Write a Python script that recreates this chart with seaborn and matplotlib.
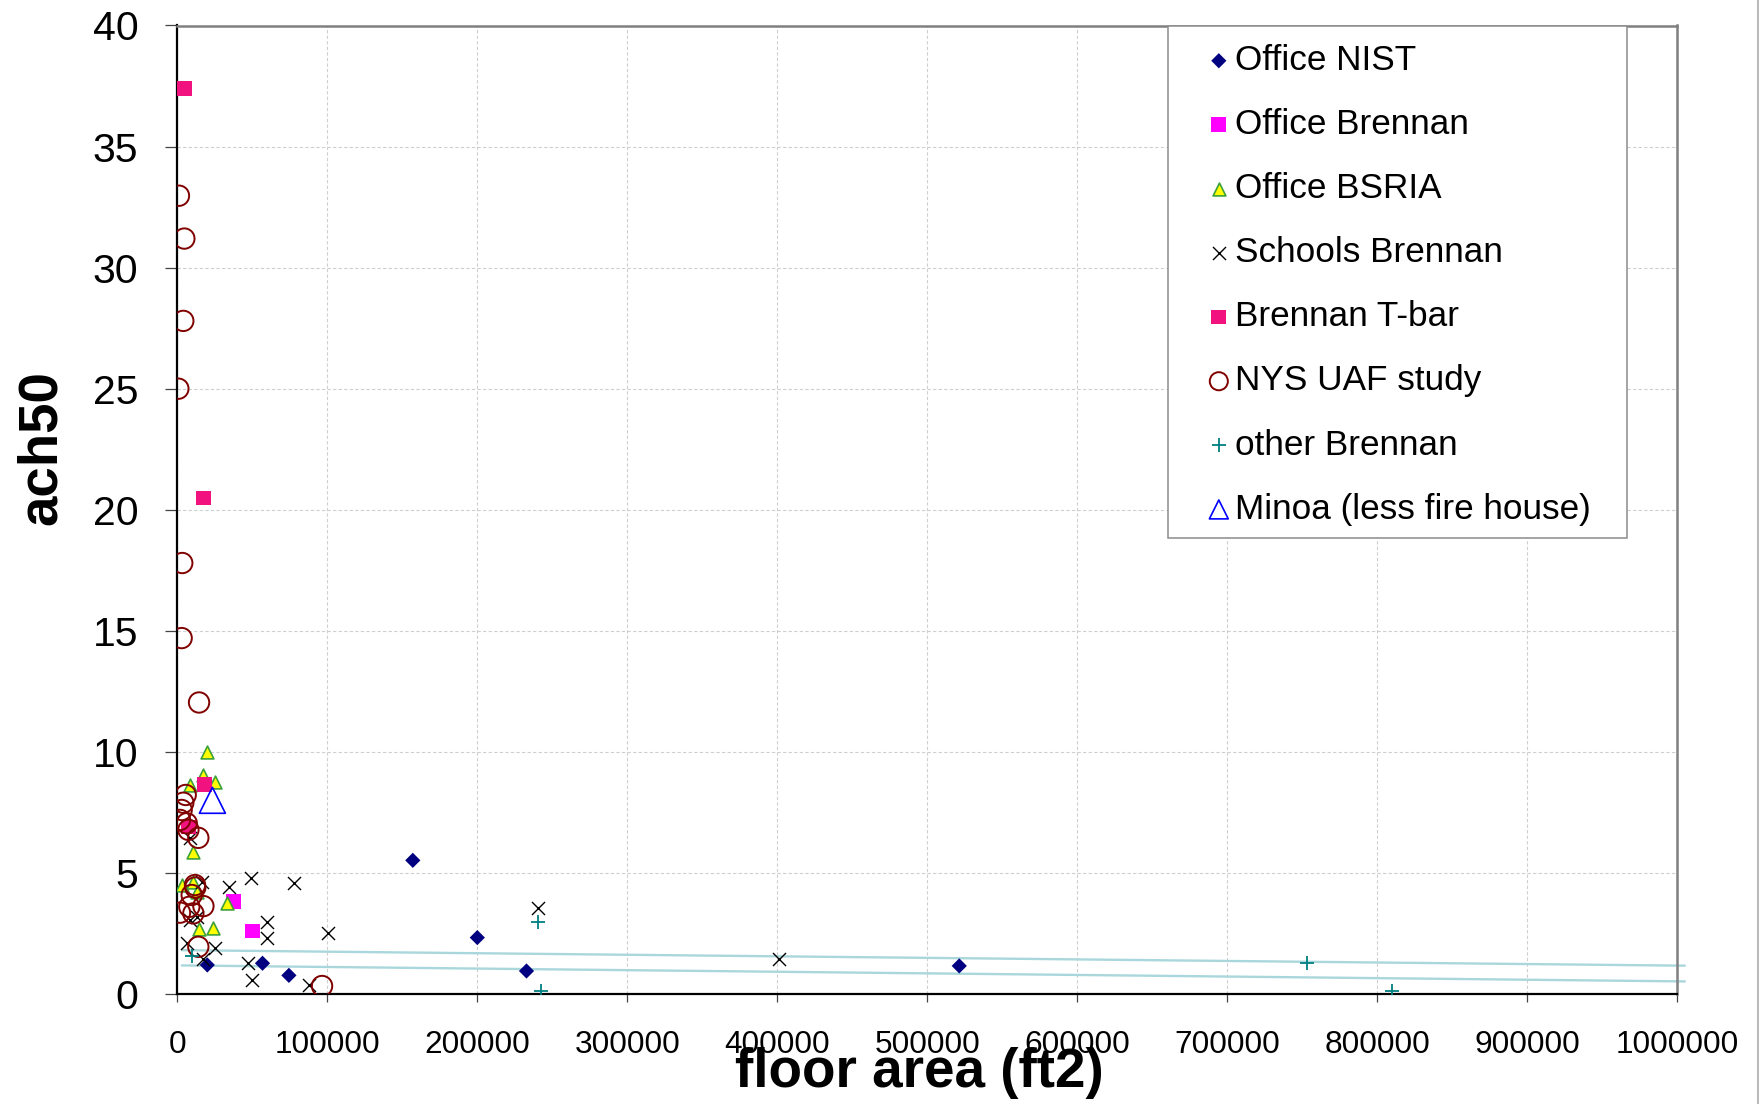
import matplotlib
matplotlib.use("Agg")
import matplotlib.pyplot as plt
import seaborn as sns
from matplotlib.patches import Rectangle
from matplotlib.lines import Line2D

# ---------------- data ----------------
nist_x = [20000, 56800, 74400, 157000, 200000, 232800, 521300]
nist_y = [1.20, 1.27, 0.77, 5.52, 2.33, 0.95, 1.16]

off_brennan_x = [37400, 50100]
off_brennan_y = [3.81, 2.60]

bsria_x = [19600, 17400, 25200, 8500, 10700, 2900, 10700, 13000, 33000, 14500, 24000]
bsria_y = [10.0, 9.05, 8.77, 8.64, 5.88, 4.50, 4.64, 4.23, 3.77, 2.67, 2.71]

schools_x = [34700, 49000, 77500, 60100, 60100, 100200, 25200, 6700, 47400, 50100,
             88000, 17400, 13000, 8500, 16300, 8500, 240500, 400800]
schools_y = [4.43, 4.78, 4.60, 2.99, 2.30, 2.50, 1.89, 2.09, 1.27, 0.58,
             0.37, 1.45, 3.20, 6.45, 4.64, 3.06, 3.57, 1.43]

tbar_x = [4700, 17400, 18000, 7400]
tbar_y = [37.4, 20.48, 8.64, 6.90]

nys_x = [1100, 4700, 4000, 700, 3300, 2900, 14500, 5600, 4000, 2900, 1800, 6300,
         7400, 14000, 11800, 9600, 17400, 1800, 10700, 14000, 96500, 12000, 8000]
nys_y = [32.97, 31.2, 27.8, 25.0, 17.8, 14.7, 12.04, 8.22, 7.9, 7.6, 7.19, 7.05,
         6.78, 6.45, 4.50, 4.09, 3.63, 3.36, 3.33, 1.95, 0.33, 4.40, 3.60]

other_x = [9600, 240500, 242300, 753200, 810000]
other_y = [1.57, 2.96, 0.12, 1.30, 0.14]

minoa_x = [23400]
minoa_y = [8.0]

trend_x = [3000, 1005000]
trend_upper_y = [1.81, 1.17]
trend_lower_y = [1.18, 0.52]

series_names = ["Office NIST", "Office Brennan", "Office BSRIA", "Schools Brennan",
                "Brennan T-bar", "NYS UAF study", "other Brennan", "Minoa (less fire house)"]

x_ticks = [0, 100000, 200000, 300000, 400000, 500000, 600000, 700000, 800000, 900000, 1000000]
x_tick_labels = ["0", "100000", "200000", "300000", "400000", "500000", "600000",
                 "700000", "800000", "900000", "1000000"]
y_ticks = [0, 5, 10, 15, 20, 25, 30, 35, 40]
y_tick_labels = ["0", "5", "10", "15", "20", "25", "30", "35", "40"]

# ---------------- style ----------------
sns.set_style("white")
plt.rcParams['font.family'] = ['Liberation Sans', 'DejaVu Sans']
plt.rcParams['text.color'] = 'black'
plt.rcParams['axes.labelcolor'] = 'black'
plt.rcParams['xtick.color'] = 'black'
plt.rcParams['ytick.color'] = 'black'

W, H = 1759, 1104
fig = plt.figure(figsize=(W / 100, H / 100), dpi=100)
ax_left, ax_right, ax_top, ax_bottom = 177.3, 1677.3, 25.5, 994.0
ax = fig.add_axes([ax_left / W, 1 - ax_bottom / H, (ax_right - ax_left) / W, (ax_bottom - ax_top) / H])

# trend lines
sns.lineplot(x=trend_x, y=trend_upper_y, ax=ax, color='#A9D7DB', linewidth=1.7,
             sort=False, estimator=None, legend=False, clip_on=False, zorder=2)
sns.lineplot(x=trend_x, y=trend_lower_y, ax=ax, color='#A9D7DB', linewidth=1.7,
             sort=False, estimator=None, legend=False, clip_on=False, zorder=2)

handles = []

def add(xs, ys, name, z, **kw):
    sns.scatterplot(x=xs, y=ys, ax=ax, label=name, legend=False, zorder=z, **kw)
    handles.append(ax.collections[-1])

add(nist_x, nist_y, series_names[0], 3, marker='D', s=60, color='#000080', edgecolor='none', linewidth=0)
add(off_brennan_x, off_brennan_y, series_names[1], 3.1, marker='s', s=112, color='#FF00FF', edgecolor='none', linewidth=0)
add(bsria_x, bsria_y, series_names[2], 3.2, marker='^', s=85, color='#FFFF00', edgecolor='#3CA03C', linewidth=1.2)
add(schools_x, schools_y, series_names[3], 3.3, marker='x', s=88, color='black', linewidth=1.0)
add(tbar_x, tbar_y, series_names[4], 3.4, marker='s', s=112, color='#F2127F', edgecolor='none', linewidth=0)
add(nys_x, nys_y, series_names[5], 3.5, marker='o', s=215, facecolor='none', edgecolor='#800000', linewidth=1.4)
add(other_x, other_y, series_names[6], 3.6, marker='+', s=94, color='#008080', linewidth=1.3)
add(minoa_x, minoa_y, series_names[7], 3.7, marker='^', s=350, facecolor='none', edgecolor='#0000FF', linewidth=1.2)

# axes
ax.set_xlim(0, 1000000)
ax.set_ylim(0, 40)
ax.set_xticks(x_ticks)
ax.set_xticklabels(x_tick_labels)
ax.set_yticks(y_ticks)
ax.set_yticklabels(y_tick_labels)
ax.tick_params(axis='x', bottom=True, direction='out', length=6, width=0.9, pad=20,
               labelsize=22.8, color='#444444', labelcolor='black')
ax.tick_params(axis='y', left=True, direction='out', length=8.6, width=0.9, pad=19.5,
               labelsize=29.5, color='#444444', labelcolor='black')

ax.grid(True, color='#CFCFCF', linestyle=(0, (3, 2)), linewidth=0.8)
ax.set_axisbelow(True)

for side in ['left', 'bottom']:
    ax.spines[side].set_color('black')
    ax.spines[side].set_linewidth(1.6)
for side in ['top', 'right']:
    ax.spines[side].set_color('#808080')
    ax.spines[side].set_linewidth(1.8)
    ax.spines[side].set_visible(True)

ax.set_xlabel("floor area (ft2)", fontsize=39.5, fontweight='bold', color='black')
ax.xaxis.set_label_coords(0.495, -0.0965)
ax.xaxis.label.set_verticalalignment('baseline')

ax.set_ylabel("ach50", fontsize=39.3, fontweight='bold', color='black')
ax.yaxis.set_label_coords(-0.0808, 0.5642)
ax.yaxis.label.set_verticalalignment('baseline')

# legend box
ax_w = ax_right - ax_left
ax_h = ax_bottom - ax_top
bx0, bx1, by0, by1 = 1168.3, 1626.7, 25.7, 538.3
ax.add_patch(Rectangle(((bx0 - ax_left) / ax_w, (ax_bottom - by1) / ax_h),
                       (bx1 - bx0) / ax_w, (by1 - by0) / ax_h,
                       transform=ax.transAxes, facecolor='white', edgecolor='#8C8C8C',
                       linewidth=1.1, zorder=6, clip_on=False))
leg = ax.legend(handles=handles, labels=series_names, loc='upper left',
                bbox_to_anchor=((1190 - ax_left) / ax_w, (ax_bottom - by0) / ax_h),
                frameon=False, fontsize=25.3, borderpad=0.52, borderaxespad=0,
                handlelength=0.6, handletextpad=0.15, labelspacing=0.885, scatterpoints=1)
leg.set_zorder(7)
for t in leg.get_texts():
    t.set_color('black')
lh = leg.legend_handles
lh[5].set_sizes([170])
lh[7].set_sizes([185])

# outer chart border (right edge)
fig.add_artist(Line2D([0.9992, 0.9992], [0, 1], transform=fig.transFigure,
                      color='#BBBBBB', linewidth=1.5))

fig.savefig("out.png", dpi=100)
